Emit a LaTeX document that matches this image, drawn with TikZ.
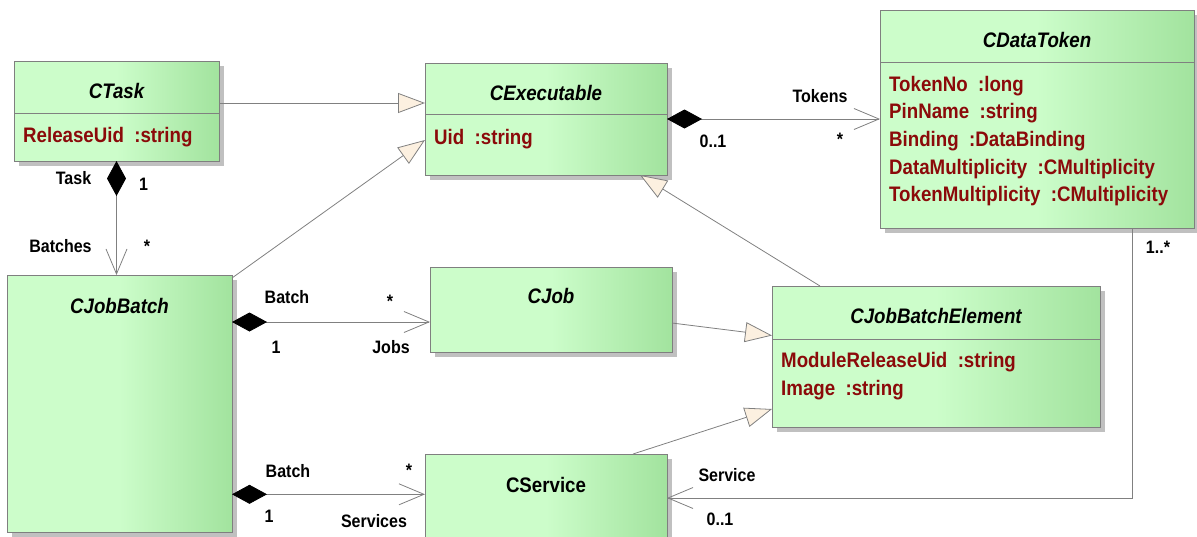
\documentclass[tikz,border=0pt]{standalone}
\usepackage{fontspec}
\setmainfont{Liberation Sans}[FakeStretch=0.89]
\usetikzlibrary{arrows.meta,shadows,calc}

% palette
\definecolor{boxpale}{HTML}{CCFDCA}
\definecolor{boxdark}{HTML}{A2E39E}
\definecolor{boxborder}{HTML}{7F7F7F}
\definecolor{shadowgray}{HTML}{C0C0C0}
\definecolor{linegray}{HTML}{808080}
\definecolor{genfill}{HTML}{FCF0E0}
\definecolor{attrred}{HTML}{8B0A0A}

% class body: pale on the left, greener towards the right edge
\pgfdeclarehorizontalshading{umlgreen}{100bp}{color(0bp)=(boxpale); color(25bp)=(boxpale); color(50bp)=(boxpale); color(75bp)=(boxdark); color(100bp)=(boxdark)}

\tikzset{
  umlbox/.style={draw=boxborder, line width=0.8pt, shade, shading=umlgreen,
    anchor=north west, inner sep=0pt, outer sep=0pt,
    drop shadow={shadow xshift=5pt, shadow yshift=-5pt, fill=shadowgray, opacity=1}},
  divider/.style={draw=linegray, line width=0.8pt},
  classname/.style={anchor=base, inner sep=0pt, font=\fontsize{21}{25}\selectfont\bfseries\itshape},
  concretename/.style={anchor=base, inner sep=0pt, font=\fontsize{21}{25}\selectfont\bfseries},
  attr/.style={anchor=base west, inner sep=0pt, text=attrred, font=\fontsize{21}{25}\selectfont\bfseries},
  rolelabel/.style={anchor=base, inner sep=0pt, font=\fontsize{18}{20}\selectfont\bfseries},
  gen/.style={draw=linegray, line width=0.8pt,
    -{Triangle[length=27pt, width=20pt, fill=genfill]}},
  comp/.style={draw=linegray, line width=0.8pt,
    {Diamond[length=35pt, width=19pt, color=black, fill=black]}-{Straight Barb[length=25pt, width=21pt]}},
  nav/.style={draw=linegray, line width=0.8pt, -{Straight Barb[length=25pt, width=21pt]}},
}

\begin{document}
\begin{tikzpicture}[x=1pt, y=-1pt]
\useasboundingbox (0,0) rectangle (1197,536);
\clip (0,0) rectangle (1197,536);

% ---------------- classes ----------------
\node[umlbox, minimum width=205pt, minimum height=100pt] (ctask) at (14,61) {};
\draw[divider] ($(ctask.north west)+(0,52)$) -- ($(ctask.north east)+(0,52)$);
\node[classname] (ctask-name) at ($(ctask.north)+(0,37)$) {CTask};
\node[attr] (ctask-a1) at ($(ctask.north west)+(9,81)$) {ReleaseUid~~:string};

\node[umlbox, minimum width=242pt, minimum height=112pt] (cexec) at (425,63) {};
\draw[divider] ($(cexec.north west)+(0,51)$) -- ($(cexec.north east)+(0,51)$);
\node[classname] (cexec-name) at ($(cexec.north)+(0,37)$) {CExecutable};
\node[attr] (cexec-a1) at ($(cexec.north west)+(9,81)$) {Uid~~:string};

\node[umlbox, minimum width=314pt, minimum height=218pt] (ctoken) at (880,10) {};
\draw[divider] ($(ctoken.north west)+(0,52)$) -- ($(ctoken.north east)+(0,52)$);
\node[classname] (ctoken-name) at ($(ctoken.north)+(0,37)$) {CDataToken};
\node[attr] (ctoken-a1) at ($(ctoken.north west)+(9,81)$) {TokenNo~~:long};
\node[attr] (ctoken-a2) at ($(ctoken.north west)+(9,108.7)$) {PinName~~:string};
\node[attr] (ctoken-a3) at ($(ctoken.north west)+(9,136.4)$) {Binding~~:DataBinding};
\node[attr] (ctoken-a4) at ($(ctoken.north west)+(9,164.1)$) {DataMultiplicity~~:CMultiplicity};
\node[attr] (ctoken-a5) at ($(ctoken.north west)+(9,191.8)$) {TokenMultiplicity~~:CMultiplicity};

\node[umlbox, minimum width=225pt, minimum height=257pt] (cjobbatch) at (7,275) {};
\node[classname] (cjobbatch-name) at ($(cjobbatch.north)+(0,38)$) {CJobBatch};

\node[umlbox, minimum width=242pt, minimum height=85pt] (cjob) at (430,267) {};
\node[classname] (cjob-name) at ($(cjob.north)+(0,36)$) {CJob};

\node[umlbox, minimum width=328pt, minimum height=141pt] (cjbe) at (772,286) {};
\draw[divider] ($(cjbe.north west)+(0,53)$) -- ($(cjbe.north east)+(0,53)$);
\node[classname] (cjbe-name) at ($(cjbe.north)+(0,37)$) {CJobBatchElement};
\node[attr] (cjbe-a1) at ($(cjbe.north west)+(9,81)$) {ModuleReleaseUid~~:string};
\node[attr] (cjbe-a2) at ($(cjbe.north west)+(9,109)$) {Image~~:string};

\node[umlbox, minimum width=242pt, minimum height=88pt] (cservice) at (425,454) {};
\node[concretename] (cservice-name) at ($(cservice.north)+(0,38)$) {CService};

% ---------------- generalizations ----------------
\draw[gen] ([yshift=8pt]ctask.east) -- ([yshift=16pt]cexec.west);
\draw[gen] ([yshift=-3pt]cjobbatch.north east) -- ([yshift=-21pt]cexec.west);
\draw[gen] ([yshift=-13.5pt]cjob.east) -- ([yshift=21pt]cjbe.west);
\draw[gen] ([xshift=87pt]cservice.north) -- ([yshift=-52.5pt]cjbe.west);
\draw[gen] ([xshift=-116pt]cjbe.north) -- ([xshift=94pt]cexec.south);

% ---------------- compositions ----------------
\draw[comp] (ctask.south) -- (ctask.south |- cjobbatch.north);
\draw[comp] (cexec.east) -- (cexec.east -| ctoken.west);
\coordinate (jobin) at ([yshift=-12.5pt]cjob.west);
\draw[comp] (cjobbatch.east |- jobin) -- (jobin);
\coordinate (svcin) at ([yshift=3.7pt]cservice.west);
\draw[comp] (cjobbatch.east |- svcin) -- (svcin);

% ---------------- navigable association ----------------
\draw[nav] ([xshift=95pt]ctoken.south) |- (cservice.east);

% ---------------- role names and multiplicities ----------------
\node[rolelabel] (l-task) at (73.5,184) {Task};
\node[rolelabel] (l-task-m) at (143.5,190) {1};
\node[rolelabel] (l-batches) at (60.5,252) {Batches};
\node[rolelabel] (l-batches-m) at (147,252) {*};

\node[rolelabel] (l-tokens) at (820,102) {Tokens};
\node[rolelabel] (l-tokens-m) at (840,145) {*};
\node[rolelabel] (l-exec-m) at (713,147) {0..1};

\node[rolelabel] (l-token-m) at (1158,253) {1..*};

\node[rolelabel] (l-batch1) at (287,303) {Batch};
\node[rolelabel] (l-jobs-m) at (390,307) {*};
\node[rolelabel] (l-batch1-m) at (276,353) {1};
\node[rolelabel] (l-jobs) at (391,353) {Jobs};

\node[rolelabel] (l-batch2) at (288,477) {Batch};
\node[rolelabel] (l-services-m) at (409,476) {*};
\node[rolelabel] (l-batch2-m) at (269,522) {1};
\node[rolelabel] (l-services) at (374,527) {Services};

\node[rolelabel] (l-service) at (727,481) {Service};
\node[rolelabel] (l-service-m) at (720,525) {0..1};
\end{tikzpicture}
\end{document}
